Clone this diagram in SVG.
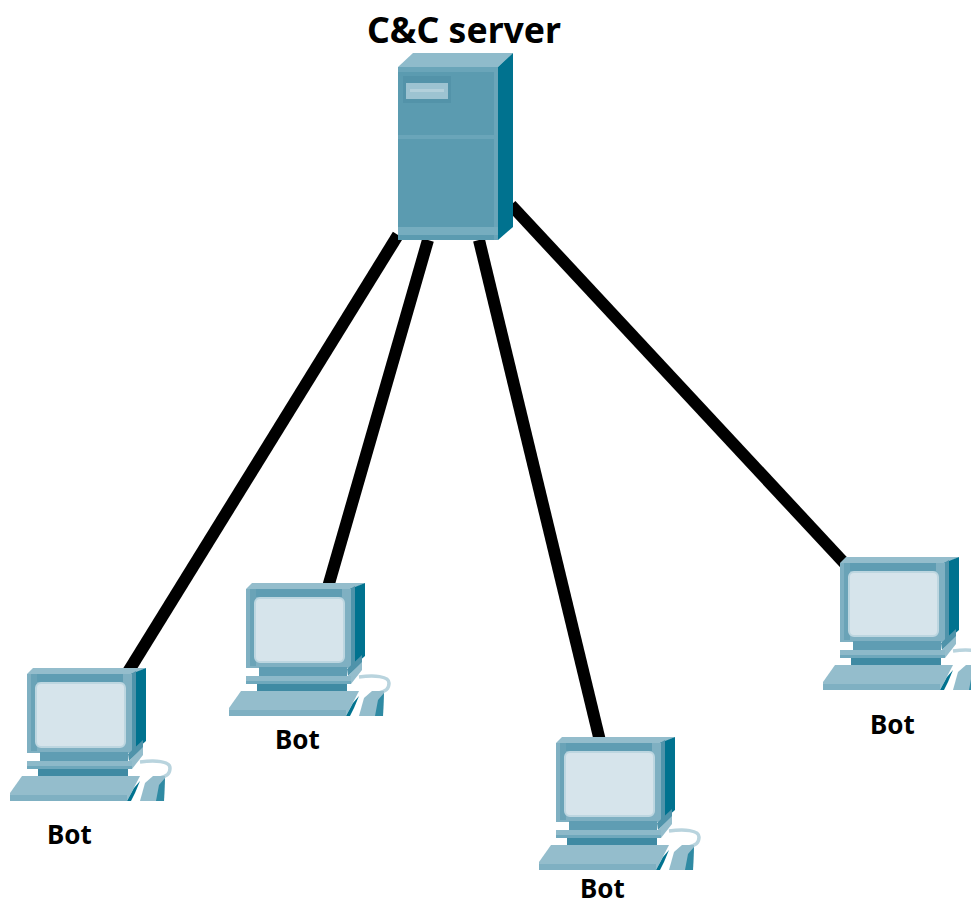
<svg xmlns="http://www.w3.org/2000/svg" width="971" height="906" viewBox="0 0 971 906">
<style>
text{font-family:"Noto Sans","Open Sans","Liberation Sans",sans-serif;font-weight:700;fill:#000}
.bot{font-size:26px}
.link{stroke:#000;stroke-width:12;fill:none}
</style>
<defs>
<g id="pc">
<path d="M113 94C128 92 143 93 143 100C143 106 140 108 133 110" fill="none" stroke="#b9d4de" stroke-width="3.5"/>
<polygon points="113,133 118,115 126,108 138,108 137,133" fill="#94bdcc"/>
<polygon points="129,133 132,117 138,110 137,133" fill="#2f8aa3"/>
<polygon points="0,6 6,0 119,0 106,6" fill="#94bdcc"/>
<polygon points="104,6 119,0 119,73 104,86" fill="#00728f"/>
<polygon points="104,6 109,3 109,82 104,86" fill="#4f93aa"/>
<rect x="0" y="6" width="105" height="79" fill="#7fb0c2"/>
<rect x="4" y="6" width="97" height="8" fill="#5f9db3"/>
<rect x="4" y="6" width="6" height="77" fill="#6aa3b7"/>
<rect x="96" y="6" width="6" height="77" fill="#7fb0c2"/>
<rect x="9" y="15" width="89" height="64" rx="5" fill="#d6e4eb" stroke="#bdd6e0" stroke-width="2"/>
<rect x="13" y="84" width="88" height="9" fill="#5f9db3"/>
<polygon points="101,86 116,72 116,80 102,93" fill="#4f93aa"/>
<polygon points="102,93 116,79 116,87 105,101" fill="#94bdcc"/>
<rect x="0" y="93" width="105" height="5" fill="#8db9c9"/>
<rect x="0" y="98" width="105" height="3" fill="#6fa8bc"/>
<rect x="11" y="101" width="90" height="7" fill="#3f8aa3"/>
<polygon points="-5,108 113,108 100,133 -17,133 -17,125" fill="#94bdcc"/>
<rect x="-17" y="127" width="117" height="6" fill="#7fb0c2"/>
<polygon points="100,133 107,120 113,113 108,125 104,133" fill="#00728f"/>
</g>
</defs>
<g id="connectors">
<line class="link" x1="398" y1="235" x2="128" y2="672"/>
<line class="link" x1="428" y1="240" x2="328" y2="587"/>
<line class="link" x1="479" y1="240" x2="600" y2="741"/>
<line class="link" x1="511" y1="205" x2="848" y2="567"/>
</g>
<g id="server">
<polygon points="398,67 413,53 513,53 498,67" fill="#8fbbcb"/>
<polygon points="498,67 513,53 513,227 498,240" fill="#00728f"/>
<rect x="398" y="67" width="100" height="173" fill="#5b9bb0"/>
<rect x="398" y="67" width="100" height="5" fill="#6aa5b9"/>
<rect x="494" y="67" width="4" height="173" fill="#6aa5b9"/>
<rect x="403" y="76" width="48" height="27" fill="#5393a9"/>
<rect x="406" y="83" width="42" height="16" fill="#9dc3d1"/>
<rect x="410" y="89" width="34" height="3" fill="#b3d0db"/>
<rect x="398" y="135" width="100" height="4" fill="#6aa5b9"/>
<rect x="398" y="227" width="100" height="8" fill="#76adbf"/>
<text x="464" y="43" font-size="35" text-anchor="middle" textLength="194" lengthAdjust="spacingAndGlyphs">C&amp;C server</text>
</g>
<g id="bot1"><use href="#pc" x="27" y="668"/><text class="bot" x="47" y="844">Bot</text></g>
<g id="bot2"><use href="#pc" x="246" y="583"/><text class="bot" x="275" y="749">Bot</text></g>
<g id="bot3"><use href="#pc" x="556" y="737"/><text class="bot" x="580" y="898">Bot</text></g>
<g id="bot4"><use href="#pc" x="840" y="557"/><text class="bot" x="870" y="734">Bot</text></g>
</svg>
